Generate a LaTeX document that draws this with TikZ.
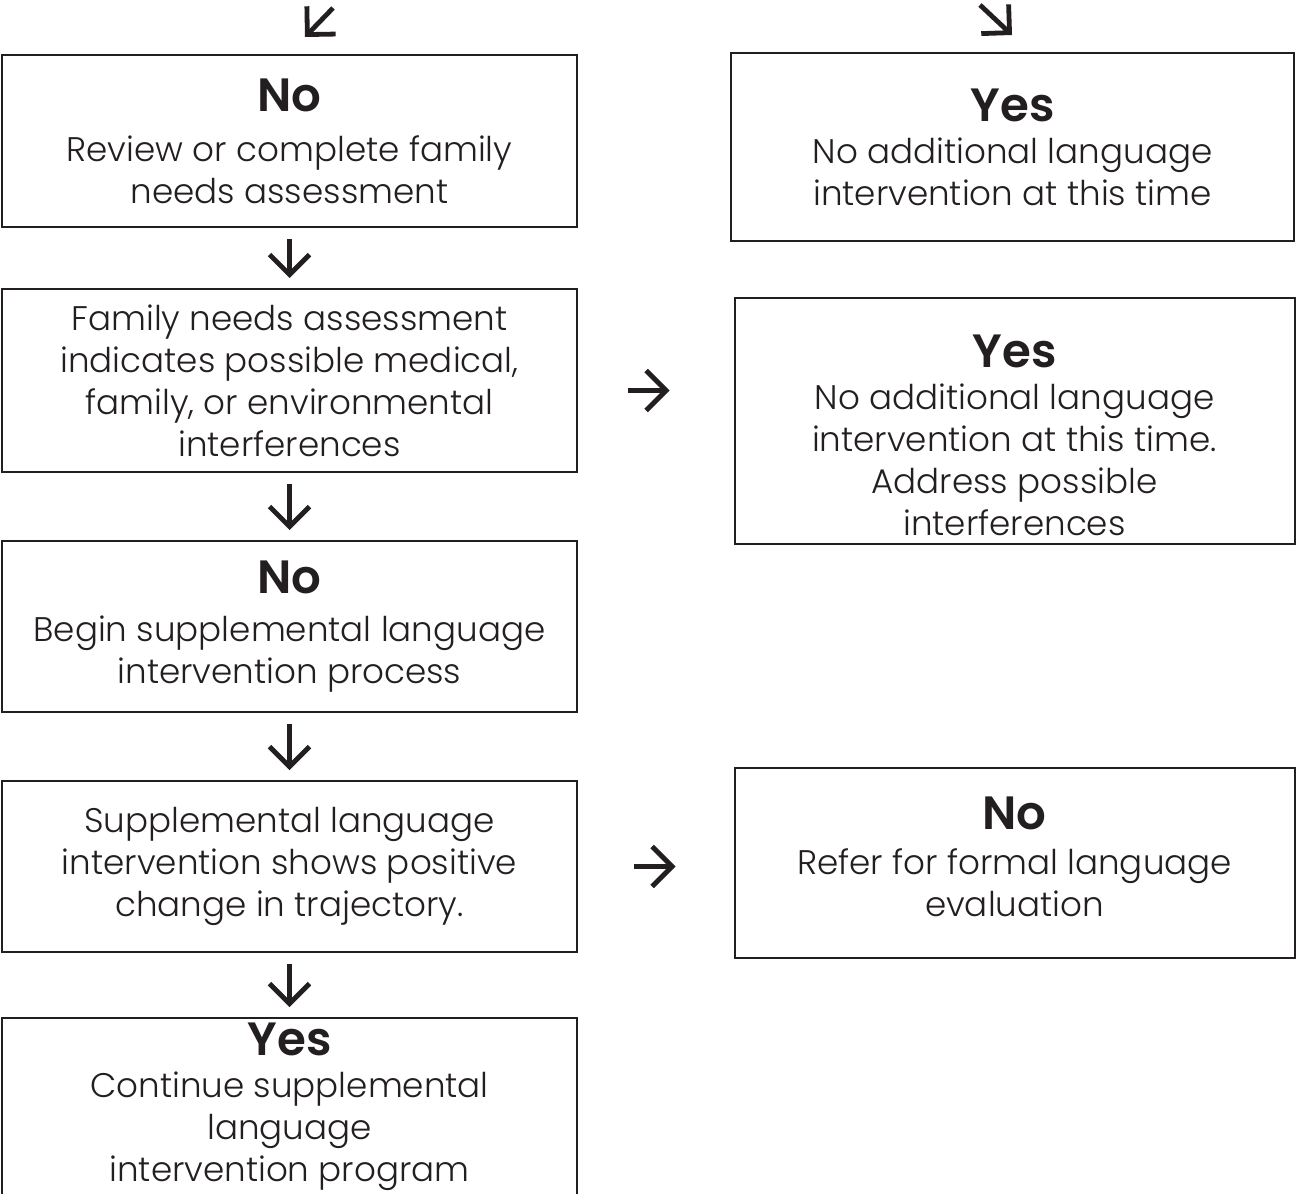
\documentclass[tikz,border=0pt]{standalone}
\usepackage{fontspec}
\setmainfont{Poppins}[UprightFont=* Light,BoldFont=* SemiBold]
\usepackage{tikz}
\usetikzlibrary{positioning,arrows.meta}
\definecolor{ink}{RGB}{35,31,32}
\tikzset{
  box/.style={draw=ink,line width=1.5pt,inner sep=0pt,align=center,text=ink},
  lbox/.style={box,minimum width=431.25pt},
  rbox/.style={box,minimum width=420pt},
  arr/.style={draw=ink,line width=3.6pt,-{Straight Barb[length=15pt,width=30pt]}},
  down/.style={arr,shorten <=8.5pt,shorten >=7.5pt}
}
\newcommand{\hd}[1]{{\fontsize{35}{40}\selectfont\bfseries #1}}

\begin{document}
\begin{tikzpicture}[x=0.75pt,y=-0.75pt,font=\fontsize{25.6}{31.5}\selectfont]
\useasboundingbox (0,0) rectangle (1296,1194);
% Left column
\node[lbox,minimum height=129pt] (rev) at (289.5,141)
  {\hd{No}\\[6pt] Review or complete family\\ needs assessment};
\node[lbox,minimum height=137.25pt] (fna) at (289.5,380.5)
  {Family needs assessment\\ indicates possible medical,\\ family, or environmental\\ interferences};
\node[lbox,minimum height=128.25pt] (begin) at (289.5,626.5)
  {\hd{No}\\[5pt] Begin supplemental language\\ intervention process};
\node[lbox,minimum height=128.25pt] (shows) at (289.5,866.5)
  {Supplemental language\\ intervention shows positive\\ change in trajectory.};
\node[lbox,minimum height=133.5pt] (cont) at (289.5,1107)
  {\hd{Yes}\\ Continue supplemental\\ language\\ intervention program};
% Right column
\node[box,minimum width=422.25pt,minimum height=141pt] (noadd) at (1012.5,147)
  {\hd{Yes}\\ No additional language\\ intervention at this time};
\node[rbox,minimum height=184.5pt] (addr) at (1014.5,421)
  {\hd{\rule{0pt}{46pt}Yes}\\ No additional language\\ intervention at this time.\\ Address possible\\ interferences};
\node[rbox,minimum height=142.5pt] (refer) at (1014.5,863)
  {\hd{No}\\[2pt] Refer for formal language\\ evaluation\rule[-9pt]{0pt}{0pt}};
% Arrows
\coordinate (inL) at (333,8);
\coordinate (outL) at (305,37);
\coordinate (inR) at (980,5);
\coordinate (outR) at (1012,35);
\draw[arr] (inL) -- (outL);
\draw[arr] (inR) -- (outR);
\draw[down] (rev) -- (fna);
\draw[down] (fna) -- (begin);
\draw[down] (begin) -- (shows);
\draw[down] (shows) -- (cont);
\draw[arr,shorten <=37.5pt,shorten >=48pt] ([yshift=-7.5pt]fna.east) -- ([yshift=-7.5pt]fna.east -| addr.west);
\draw[arr,shorten <=42pt,shorten >=43.5pt] (shows.east) -- (shows.east -| refer.west);
\end{tikzpicture}
\end{document}
